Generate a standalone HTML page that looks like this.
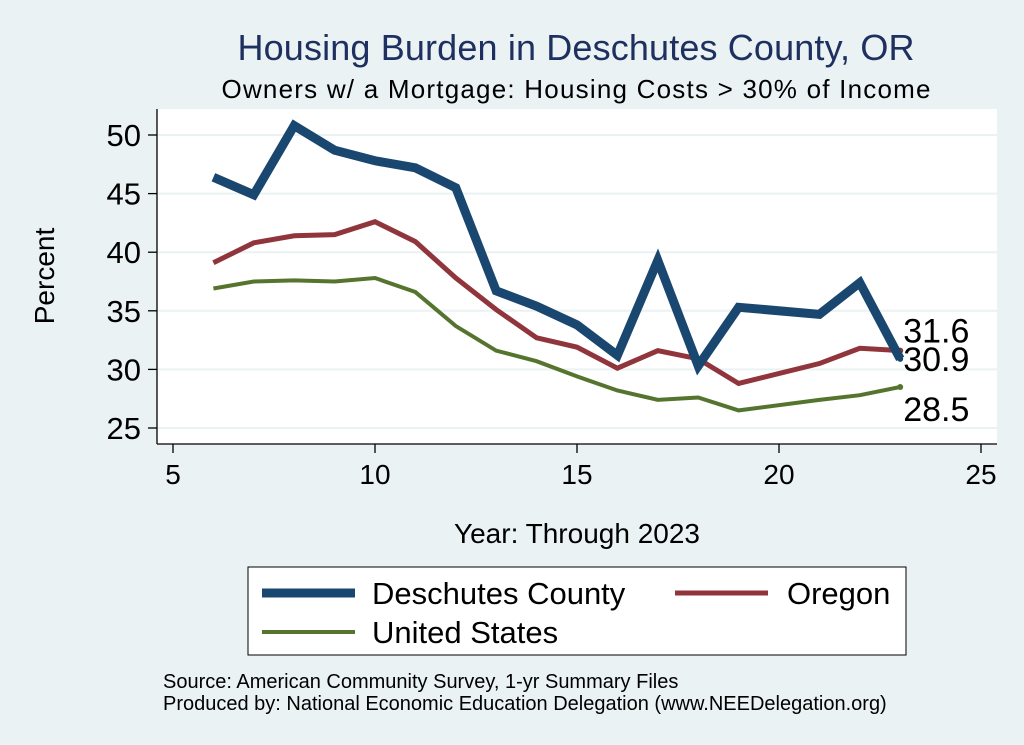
<!DOCTYPE html>
<html><head><meta charset="utf-8"><style>
body{margin:0;background:#eaf2f3;font-family:"Liberation Sans",sans-serif;}
svg{display:block}
</style></head><body>
<svg id="c" width="1024" height="745" xmlns="http://www.w3.org/2000/svg" font-family="Liberation Sans, sans-serif">
<rect width="1024" height="745" fill="#eaf2f3"/>
<text x="576" y="60" font-size="36" fill="#1e3060" text-anchor="middle" textLength="677">Housing Burden in Deschutes County, OR</text>
<text x="576" y="98" font-size="26" fill="#000" text-anchor="middle" textLength="709">Owners w/ a Mortgage: Housing Costs &gt; 30% of Income</text>
<rect x="157" y="109" width="840" height="335" fill="#fff"/>
<g id="grid"></g><g id="axes"></g><g id="lines"></g>
<text transform="translate(54,276) rotate(-90)" font-size="28" text-anchor="middle">Percent</text>
<text x="577" y="543" font-size="28" text-anchor="middle">Year: Through 2023</text>
<g>
<rect x="248" y="567" width="658" height="88" fill="#fff" stroke="#000" stroke-width="1"/>
<line x1="262" y1="593" x2="355" y2="593" stroke="#1a476f" stroke-width="9"/>
<text x="372" y="604" font-size="31">Deschutes County</text>
<line x1="675" y1="593" x2="768" y2="593" stroke="#90353b" stroke-width="5"/>
<text x="787" y="604" font-size="31">Oregon</text>
<line x1="262" y1="632" x2="355" y2="632" stroke="#55752f" stroke-width="4"/>
<text x="372" y="643" font-size="31">United States</text>
</g>
<text x="163" y="688" font-size="20">Source: American Community Survey, 1-yr Summary Files</text>
<text x="163" y="710" font-size="20">Produced by: National Economic Education Delegation (www.NEEDelegation.org)</text>
</svg>
<script>
const years=[6,7,8,9,10,11,12,13,14,15,16,17,18,19,21,22,23];
const deschutes=[46.4,44.9,50.8,48.7,47.8,47.2,45.5,36.7,35.4,33.8,31.2,39.3,30.3,35.3,34.7,37.4,30.9];
const oregon=[39.1,40.8,41.4,41.5,42.6,40.9,37.8,35.1,32.7,31.9,30.1,31.6,30.9,28.8,30.5,31.8,31.6];
const us=[36.9,37.5,37.6,37.5,37.8,36.6,33.7,31.6,30.7,29.4,28.2,27.4,27.6,26.5,27.4,27.8,28.5];
const yTicks=[25,30,35,40,45,50];
const xTicks=[5,10,15,20,25];
const NS="http://www.w3.org/2000/svg";
const X=v=>173+(v-5)*(981-173)/20;
const Y=v=>428-(v-25)*(428-135)/25;
function mk(p,t,a){const e=document.createElementNS(NS,t);for(const k in a)e.setAttribute(k,a[k]);document.getElementById(p).appendChild(e);return e;}
yTicks.forEach(t=>{
 const g=mk('grid','line',{x1:158,x2:997,y1:Y(t),y2:Y(t),stroke:'#eaf2f3','stroke-width':2});
 
 
 const k=mk('axes','line',{x1:148,x2:157,y1:Y(t),y2:Y(t),stroke:'#000','stroke-width':1.3});
 
 
 const l=mk('axes','text',{x:141,y:Y(t)+11,'font-size':31,'text-anchor':'end'});
 l.textContent=t;
 
 
});
xTicks.forEach(t=>{
 const k=mk('axes','line',{x1:X(t),x2:X(t),y1:444,y2:453,stroke:'#000','stroke-width':1.3});
 
 
 const l=mk('axes','text',{x:X(t),y:484,'font-size':28,'text-anchor':'middle'});
 l.textContent=t;
 
 
});
const ay=mk('axes','line',{x1:157,x2:157,y1:109,y2:444,stroke:'#000','stroke-width':1.3});


const ax=mk('axes','line',{x1:157,x2:997,y1:444,y2:444,stroke:'#000','stroke-width':1.3});


function series(vals,color,w,name,labelDy){
 const pts=years.map((y,i)=>X(y)+','+Y(vals[i])).join(' ');
 const p=mk('lines','polyline',{points:pts,fill:'none',stroke:color,'stroke-width':w,'stroke-linejoin':'miter'});
 
 
 const n=vals.length-1;
 const d=mk('lines','circle',{cx:X(years[n]),cy:Y(vals[n]),r:3,fill:color});
 
 
 const t=mk('lines','text',{x:X(years[n])+3,y:Y(vals[n])+labelDy,'font-size':34});
 t.textContent=vals[n].toFixed(1);
 
 
}
series(us,'#55752f',4,'us',34);
series(oregon,'#90353b',5,'oregon',-8);
series(deschutes,'#1a476f',9,'deschutes',12);
</script>
</body></html>
